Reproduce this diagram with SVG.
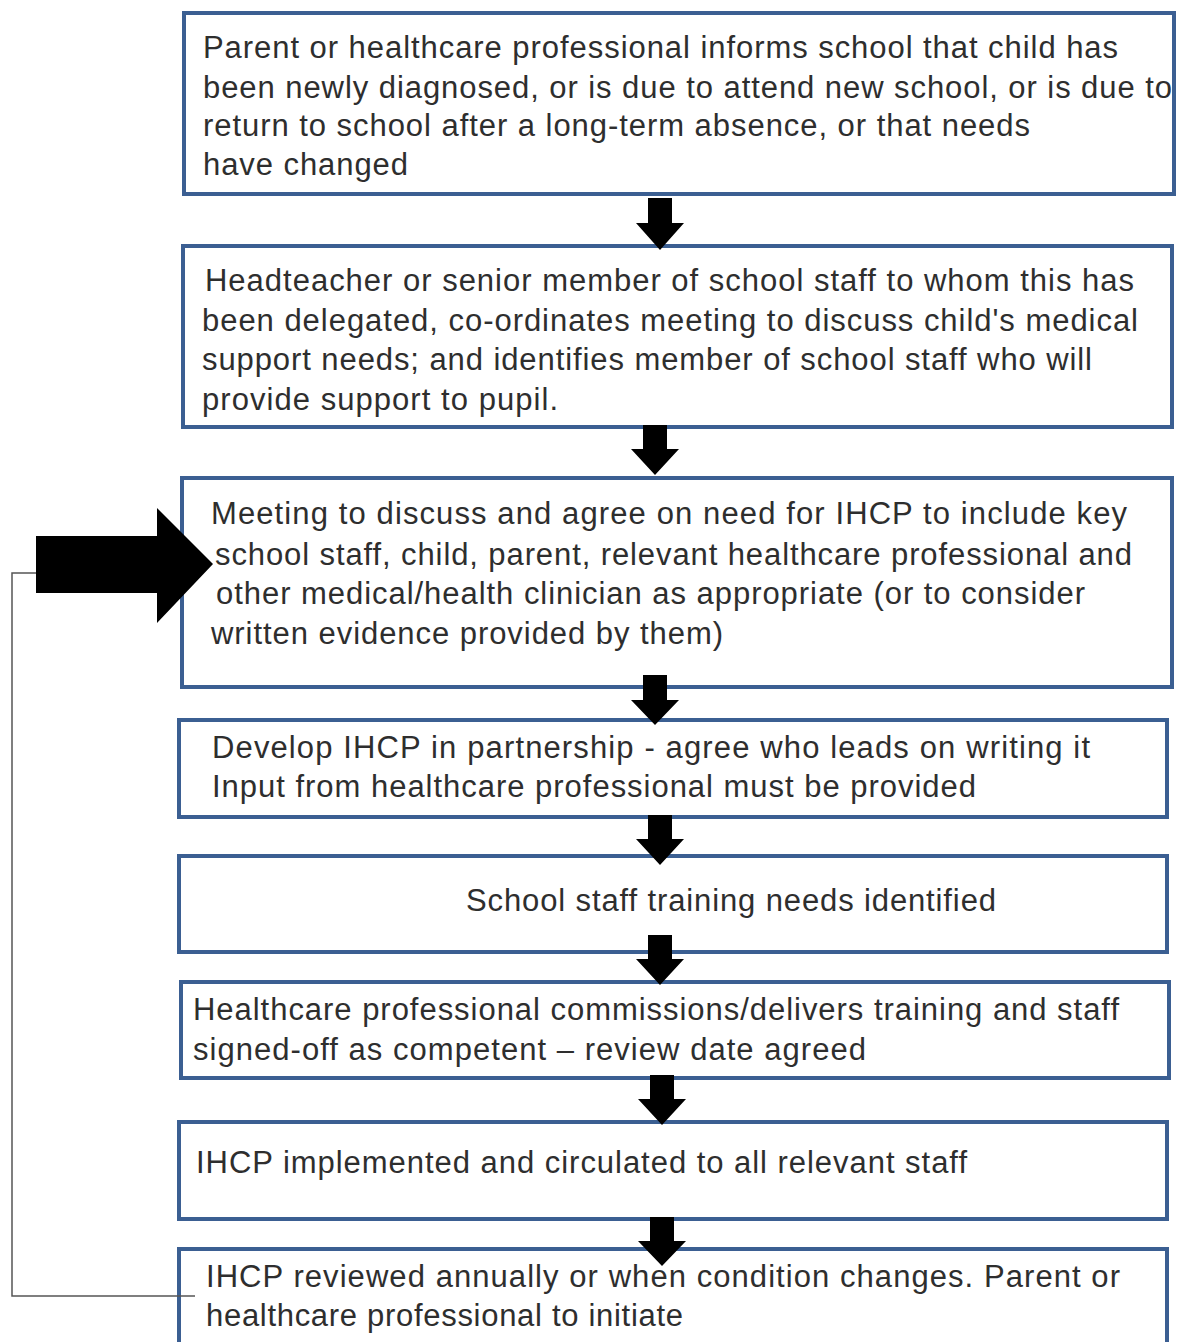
<svg xmlns="http://www.w3.org/2000/svg" width="1181" height="1342" viewBox="0 0 1181 1342">
<style>
.box{fill:#fff;stroke:#3b5f92;stroke-width:4}
.t{font-family:"Liberation Sans",Arial,sans-serif;font-size:31px;fill:#2e2e2e}
.arr{fill:#000}
.fb{fill:none;stroke:#555;stroke-width:1.5}
</style>
<rect width="1181" height="1342" fill="#fff"/>
<g id="n1"><rect class="box" x="184" y="13" width="990" height="181"/>
<text class="t"><tspan x="203" y="58" textLength="915" lengthAdjust="spacing">Parent or healthcare professional informs school that child has</tspan><tspan x="203" y="98" textLength="969" lengthAdjust="spacing">been newly diagnosed, or is due to attend new school, or is due to</tspan><tspan x="203" y="136" textLength="827" lengthAdjust="spacing">return to school after a long-term absence, or that needs</tspan><tspan x="203" y="175" textLength="205" lengthAdjust="spacing">have changed</tspan></text></g>
<g id="n2"><rect class="box" x="183" y="246" width="989" height="181"/>
<text class="t"><tspan x="205" y="291" textLength="929" lengthAdjust="spacing">Headteacher or senior member of school staff to whom this has</tspan><tspan x="202" y="331" textLength="936" lengthAdjust="spacing">been delegated, co-ordinates meeting to discuss child's medical</tspan><tspan x="202" y="370" textLength="890" lengthAdjust="spacing">support needs; and identifies member of school staff who will</tspan><tspan x="202" y="410" textLength="356" lengthAdjust="spacing">provide support to pupil.</tspan></text></g>
<g id="n3"><rect class="box" x="182" y="478" width="990" height="209"/>
<text class="t"><tspan x="211" y="524" textLength="916" lengthAdjust="spacing">Meeting to discuss and agree on need for IHCP to include key</tspan><tspan x="215" y="565" textLength="917" lengthAdjust="spacing">school staff, child, parent, relevant healthcare professional and</tspan><tspan x="216" y="604" textLength="869" lengthAdjust="spacing">other medical/health clinician as appropriate (or to consider</tspan><tspan x="211" y="644" textLength="512" lengthAdjust="spacing">written evidence provided by them)</tspan></text></g>
<g id="n4"><rect class="box" x="179" y="720" width="988" height="97"/>
<text class="t"><tspan x="212" y="758" textLength="878" lengthAdjust="spacing">Develop IHCP in partnership - agree who leads on writing it</tspan><tspan x="212" y="797" textLength="764" lengthAdjust="spacing">Input from healthcare professional must be provided</tspan></text></g>
<g id="n5"><rect class="box" x="179" y="856" width="988" height="96"/>
<text class="t" x="466" y="911" textLength="530" lengthAdjust="spacing">School staff training needs identified</text></g>
<g id="n6"><rect class="box" x="181" y="982" width="988" height="96"/>
<text class="t"><tspan x="193" y="1020" textLength="926" lengthAdjust="spacing">Healthcare professional commissions/delivers training and staff</tspan><tspan x="193" y="1060" textLength="673" lengthAdjust="spacing">signed-off as competent – review date agreed</tspan></text></g>
<g id="n7"><rect class="box" x="179" y="1122" width="988" height="97"/>
<text class="t" x="196" y="1173" textLength="771" lengthAdjust="spacing">IHCP implemented and circulated to all relevant staff</text></g>
<g id="n8"><rect class="box" x="179" y="1249" width="988" height="110"/>
<text class="t"><tspan x="206" y="1287" textLength="914" lengthAdjust="spacing">IHCP reviewed annually or when condition changes. Parent or</tspan><tspan x="206" y="1326" textLength="477" lengthAdjust="spacing">healthcare professional to initiate</tspan></text></g>
<g id="connectors">
<path class="arr" d="M648,198 H672 V223 H684 L660,250 L636,223 H648 Z"/>
<path class="arr" d="M643,425 H667 V449 H679 L655,475 L631,449 H643 Z"/>
<path class="arr" d="M643,675 H667 V700 H679 L655,725 L631,700 H643 Z"/>
<path class="arr" d="M648,815 H672 V839 H684 L660,865 L636,839 H648 Z"/>
<path class="arr" d="M648,935 H672 V959 H684 L660,985 L636,959 H648 Z"/>
<path class="arr" d="M650,1075 H674 V1099 H686 L662,1125 L638,1099 H650 Z"/>
<path class="arr" d="M650,1217 H674 V1241 H686 L662,1266 L638,1241 H650 Z"/>
<path class="fb" d="M195,1296 H12 V573 H36"/>
<path class="arr" d="M36,536 H157 V508 L213,564 L157,623 V593 H36 Z"/>
</g>
</svg>
